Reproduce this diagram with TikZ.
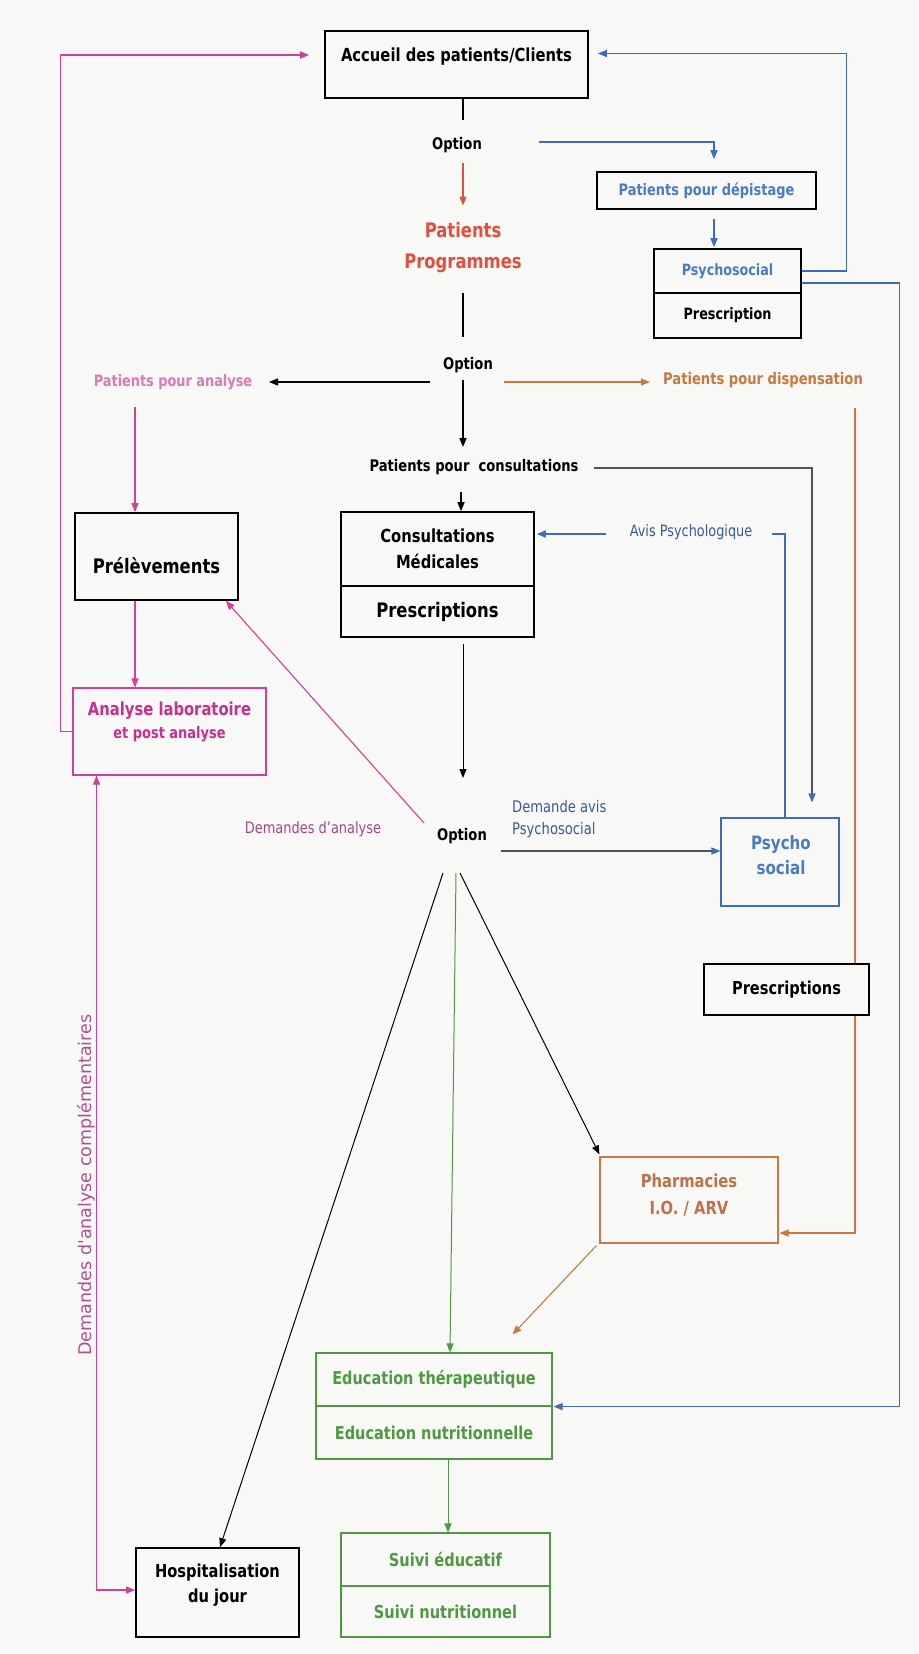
\documentclass[tikz,border=0pt]{standalone}
\usepackage{fontspec}
\setmainfont{DejaVu Sans}[FakeStretch=0.82]
\newfontfamily\plainfont{DejaVu Sans}
\usetikzlibrary{arrows.meta,calc}
\definecolor{paper}{HTML}{F8F8F6}
\definecolor{magL}{HTML}{D0409A}
\definecolor{pinkT}{HTML}{E078B8}
\definecolor{magT}{HTML}{C8308C}
\definecolor{demT}{HTML}{A04A88}
\definecolor{vertT}{HTML}{B05090}
\definecolor{bluL}{HTML}{3C6CC0}
\definecolor{bluT}{HTML}{4A7CC4}
\definecolor{bluD}{HTML}{3A5A96}
\definecolor{greyL}{HTML}{4A5560}
\definecolor{redT}{HTML}{E0503C}
\definecolor{orgL}{HTML}{C87840}
\definecolor{orgT}{HTML}{C0704A}
\definecolor{grnL}{HTML}{4E9A40}
\newcommand\fsz[2]{\fontsize{#1}{#2}\selectfont}
\pgfdeclarelayer{paperlayer}
\pgfdeclarelayer{lines}
\pgfsetlayers{paperlayer,lines,main}
\begin{document}
\begin{tikzpicture}[x=1pt,y=-1pt,
  bbox/.style={draw=black, line width=1.7pt, fill=paper, inner sep=0pt},
  cbox/.style={draw=#1, line width=1.1pt, fill=paper, inner sep=0pt},
  txt/.style={inner sep=0pt, align=center},
  arr/.style={-{Triangle[length=9pt,width=7pt]}},
  barr/.style={-{Triangle[length=9pt,width=7pt,color=bluL]}},
  blk/.style={draw=black, line width=1.4pt},
  thin/.style={draw=black, line width=1.0pt},
  mag/.style={draw=magL, line width=1.1pt},
  blu/.style={draw=bluL, line width=1.2pt},
  gry/.style={draw=greyL, line width=1.3pt},
  org/.style={draw=orgL, line width=1.1pt},
  grn/.style={draw=grnL, line width=1.0pt}]
\begin{pgfonlayer}{paperlayer}
\fill[paper] (0,0) rectangle (918,1654);
\end{pgfonlayer}
\useasboundingbox (0,0) rectangle (918,1654);

% ---------- boxes ----------
\node[bbox, minimum width=263pt, minimum height=67pt] (accueil) at (456.5,64.5) {};
\node[txt, font=\bfseries\fsz{18}{22}] (accueilT) at (456.5,57) {Accueil des patients/Clients};

\node[txt, font=\bfseries\fsz{16}{20}] (opt1) at (457,145) {Option};
\node[txt, font=\bfseries\fsz{20}{31}, text=redT] (prog) at (463,247.5) {Patients\\Programmes};

\node[bbox, minimum width=219pt, minimum height=37pt, text=bluT, font=\bfseries\fsz{15.8}{19}] (depist) at (706.5,190.5) {Patients pour dépistage};
\node[bbox, minimum width=147pt, minimum height=44pt, text=bluT, font=\bfseries\fsz{15.5}{19}] (psyA) at (727.5,271) {Psychosocial};
\node[bbox, minimum width=147pt, minimum height=45pt, font=\bfseries\fsz{15.6}{19}] (psyB) at (727.5,315.5) {Prescription};

\node[txt, font=\bfseries\fsz{16}{20}] (opt2) at (468,365) {Option};
\node[txt, font=\bfseries\fsz{15.7}{19}, text=pinkT] (anal) at (173,382) {Patients pour analyse};
\node[txt, font=\bfseries\fsz{16}{20}, text=orgL] (disp) at (763,380) {Patients pour dispensation};
\node[txt, font=\bfseries\fsz{16}{20}] (pcons) at (474,467) {Patients pour\ \ consultations};

\node[bbox, minimum width=163pt, minimum height=87pt] (prel) at (156.5,556.5) {};
\node[txt, font=\bfseries\fsz{20}{24}] (prelT) at (156.5,566) {Prélèvements};

\node[bbox, minimum width=193pt, minimum height=74pt, align=center, font=\bfseries\fsz{18}{26}] (consA) at (437.5,549) {Consultations\\Médicales};
\node[bbox, minimum width=193pt, minimum height=51pt, font=\bfseries\fsz{20}{24}] (consB) at (437.5,611.5) {Prescriptions};

\node[txt, font=\fsz{15.7}{19}, text=bluD] (avis) at (691,532) {Avis Psychologique};

\node[cbox=magL, minimum width=193pt, minimum height=87pt] (analy) at (169.5,731.5) {};
\node[txt, text=magT, font=\bfseries\fsz{18}{23}] (analyT) at (169.5,722) {Analyse laboratoire\\{\fsz{15.8}{23}et post analyse}};

\node[txt, font=\fsz{15.8}{19}, text=demT] (dem) at (313,829) {Demandes d'analyse};
\node[txt, font=\bfseries\fsz{16}{20}] (opt3) at (462,836) {Option};
\node[txt, font=\fsz{16}{22}, text=bluD, align=left, anchor=west] (davis) at (512,819) {Demande avis\\Psychosocial};

\node[cbox=bluL, minimum width=118pt, minimum height=88pt] (psoc) at (780,862) {};
\node[txt, text=bluT, font=\bfseries\fsz{18.4}{25}] (psocT) at (781,855.5) {Psycho\\social};

\node[bbox, minimum width=165pt, minimum height=51pt, font=\bfseries\fsz{17.8}{22}] (presR) at (786.5,989.5) {Prescriptions};

\node[cbox=orgL, minimum width=178pt, minimum height=86pt] (pharm) at (689,1200) {};
\node[txt, text=orgT, font=\bfseries\fsz{18}{27}] (pharmT) at (689,1194.5) {Pharmacies\\I.O. / ARV};

\node[cbox=grnL, minimum width=236pt, minimum height=53pt, text=grnL, font=\bfseries\fsz{17.7}{22}] (eduA) at (434,1379.5) {Education thérapeutique};
\node[cbox=grnL, minimum width=236pt, minimum height=53pt, text=grnL, font=\bfseries\fsz{17.7}{22}] (eduB) at (434,1432.5) {Education nutritionnelle};

\node[cbox=grnL, minimum width=209pt, minimum height=53pt, text=grnL, font=\bfseries\fsz{17.8}{22}] (suiA) at (445.5,1559.5) {Suivi éducatif};
\node[cbox=grnL, minimum width=209pt, minimum height=51pt, text=grnL, font=\bfseries\fsz{17.8}{22}] (suiB) at (445.5,1611.5) {Suivi nutritionnel};

\node[bbox, minimum width=163pt, minimum height=89pt] (hosp) at (217.5,1592.5) {};
\node[txt, font=\bfseries\fsz{17.9}{25}] (hospT) at (217.5,1585.5) {Hospitalisation\\du jour};

\node[txt, rotate=90, text=vertT, font=\plainfont\fsz{17.5}{20}] (dac) at (86,1185) {Demandes d'analyse complémentaires};

% ---------- connectors ----------
\begin{pgfonlayer}{lines}
\coordinate (o1r) at (539,142);
\draw[mag, arr] (analy.west) -- ++(-12,0) |- ([xshift=-15pt,yshift=9.5pt]accueil.west);
\draw[blu, arr] (psyA.east) -- ++(45,0) |- ([xshift=9pt,yshift=11pt]accueil.east);
\draw[blu, arr] (o1r) -| ([xshift=7.5pt,yshift=12pt]depist.north);
\draw[blk, shorten >=17pt] ([xshift=6.5pt]accueil.south) -- ([xshift=6pt]opt1.north);
\draw[draw=redT, line width=1.1pt, arr] ([xshift=6pt,yshift=-18pt]opt1.center) -- ([yshift=42pt]prog.center);
\draw[blk] ([yshift=-45.5pt]prog.center) -- ([xshift=-5pt,yshift=28pt]opt2.center);
\draw[blu, arr] ([xshift=7.5pt,yshift=-9pt]depist.south) -- ([xshift=-13.5pt,yshift=1pt]psyA.north);
\draw[blk, arr] ([xshift=-38pt,yshift=-17pt]opt2.center) -- ([xshift=96pt]anal.center);
\draw[org, arr] ([xshift=36pt,yshift=-17pt]opt2.center) -- ([xshift=-113pt,yshift=-2pt]disp.center);
\draw[blk, arr] ([xshift=-5pt,yshift=-15pt]opt2.center) -- ([xshift=-11pt,yshift=20pt]pcons.center);
\draw[blk, arr] ([xshift=-13pt,yshift=-25pt]pcons.center) -- ([xshift=23.5pt]consA.north);
\draw[mag, arr] ([xshift=-38pt,yshift=-25pt]anal.center) -- ([xshift=-21.5pt]prel.north);
\draw[mag, arr] ([xshift=-21.5pt]prel.south) -- ([xshift=-34.5pt]analy.north);
\draw[mag, arr] ([xshift=-38pt,yshift=13pt]opt3.center) -- ([xshift=-13pt]prel.south east);
\draw[thin, arr] ([xshift=25.5pt,yshift=-6pt]consB.south) -- ([xshift=1pt,yshift=58pt]opt3.center);
\draw[gry, barr] ([xshift=120pt,yshift=-1pt]pcons.center) -| ([xshift=32pt,yshift=15pt]psoc.north);
\draw[blu] ([xshift=5pt]psoc.north) |- ([xshift=81pt,yshift=-2pt]avis.center);
\draw[blu, arr] ([xshift=-85pt,yshift=-2pt]avis.center) -- ([xshift=2pt,yshift=15pt]consA.east);
\draw[gry, barr] ([xshift=39pt,yshift=-15pt]opt3.center) -- ([yshift=11pt]psoc.west);
\draw[thin, arr] ([xshift=-19pt,yshift=-37pt]opt3.center) -- ([xshift=2.5pt]hosp.north);
\draw[grn, arr] ([xshift=-6pt,yshift=-37pt]opt3.center) -- ([xshift=16pt]eduA.north);
\draw[thin, arr] ([xshift=-2pt,yshift=-37pt]opt3.center) -- ([yshift=2pt]pharm.north west);
\draw[org, arr] ([xshift=92pt,yshift=-28pt]disp.center) |- ([xshift=1pt,yshift=-33pt]pharm.east);
\draw[org, arr] ([xshift=-3pt,yshift=-2pt]pharm.south west) -- ([xshift=-40pt,yshift=18pt]eduA.north east);
\draw[blu, arr] ([yshift=-12pt]psyA.east) -- ++(98,0) |- ([xshift=1pt]eduA.south east);
\draw[grn, arr] ([xshift=14pt]eduB.south) -- ([xshift=2.5pt]suiA.north);
\draw[mag, {Triangle[length=9pt,width=7pt]}-{Triangle[length=9pt,width=7pt]}] ([xshift=-73pt]analy.south) |- ([yshift=2.5pt]hosp.west);
\end{pgfonlayer}
\end{tikzpicture}
\end{document}
